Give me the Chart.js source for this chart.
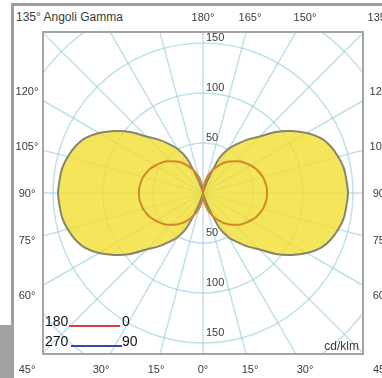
<!DOCTYPE html>
<html>
<head>
<meta charset="utf-8">
<script src="https://cdn.jsdelivr.net/npm/chart.js@4.4.1/dist/chart.umd.min.js"></script>
<style>
  html, body { margin: 0; padding: 0; background: #fff; }
  body { width: 382px; height: 378px; overflow: hidden; position: relative; font-family: "Liberation Sans", Arial, sans-serif; }
  .frame-top { position: absolute; left: 11px; top: 3px; width: 371px; height: 3px; background: #9d9d9d; }
  .frame-left { position: absolute; left: 11px; top: 3px; width: 3px; height: 322px; background: #9d9d9d; }
  .corner-block { position: absolute; left: 0; top: 325px; width: 14px; height: 53px; background: #a2a2a2; }
  #plot { position: absolute; left: 42px; top: 31px; width: 322px; height: 324px; box-sizing: border-box; border: 2px solid #a4a4a4; overflow: hidden; }
  #plot canvas { position: absolute; left: -81px; top: -80px; }
  .lbl { position: absolute; width: 40px; height: 14px; line-height: 14px; text-align: center; font-size: 11px; color: #3a3a3a; white-space: nowrap; opacity: 0.999; will-change: transform; }
  .title { position: absolute; left: 16px; top: 10px; font-size: 12px; color: #3a3a3a; white-space: nowrap; }
  .unit { position: absolute; right: 23px; top: 339px; font-size: 12px; color: #3a3a3a; }
  .leg { position: absolute; font-size: 14px; color: #111; line-height: 14px; }
  .leg-line { position: absolute; height: 2px; }
</style>
</head>
<body>
<div class="frame-top"></div>
<div class="frame-left"></div>
<div class="corner-block"></div>
<div id="plot"><canvas id="polarChart" width="480" height="480"></canvas></div>
<div class="title">135° Angoli Gamma</div>
<div class="unit">cd/klm</div>

<div class="leg" style="left:45px; top:314px;">180</div>
<div class="leg-line" style="left:69px; top:325px; width:51px; background:#e23a3a;"></div>
<div class="leg" style="left:122px; top:314px;">0</div>
<div class="leg" style="left:45px; top:334px;">270</div>
<div class="leg-line" style="left:71px; top:345px; width:51px; background:#3a46a8;"></div>
<div class="leg" style="left:122px; top:334px;">90</div>

<script>
// gamma angles, 5 degree steps
const gammaSteps = [0, 5, 10, 15, 20, 25, 30, 35, 40, 45, 50, 55, 60, 65, 70, 75, 80, 85, 90,
  95, 100, 105, 110, 115, 120, 125, 130, 135, 140, 145, 150, 155, 160, 165, 170, 175, 180];

// cd/klm, red plane C0 (right) / C180 (left)
const c0 = [0, 6, 11, 17, 22, 27, 32, 37, 41, 45, 49, 52, 55, 58, 60, 62, 63, 64, 64,
  64, 63, 62, 60, 58, 55, 52, 49, 45, 41, 37, 32, 27, 22, 17, 11, 6, 0];
const c180 = [0, 6, 11, 17, 22, 27, 32, 37, 41, 45, 49, 52, 55, 58, 60, 62, 63, 64, 64,
  64, 63, 62, 60, 58, 55, 52, 49, 45, 41, 37, 32, 27, 22, 17, 11, 6, 0];

// cd/klm, blue plane C90 (right) / C270 (left)
const c90 = [0, 0, 1, 4, 14, 38, 51, 60, 70, 80, 95, 108, 120, 130, 136, 140, 143, 144, 145,
  144, 143, 140, 136, 130, 120, 108, 95, 80, 70, 60, 51, 38, 14, 4, 1, 0, 0];
const c270 = [0, 0, 1, 4, 14, 38, 51, 60, 70, 80, 95, 108, 120, 130, 136, 140, 143, 144, 145,
  144, 143, 140, 136, 130, 120, 108, 95, 80, 70, 60, 51, 38, 14, 4, 1, 0, 0];

const radialTicks = [50, 100, 150];
const topLabels = ["180°", "165°", "150°", "135°"];
const sideLabels = ["120°", "105°", "90°", "75°", "60°"];
const bottomLabels = ["45°", "30°", "15°", "0°", "15°", "30°", "45"];

// walk clockwise from the top (gamma 180) down the right side, then up the left side
function aroundCircle(right, left) {
  const out = [];
  for (let i = 0; i < 72; i++) {
    out.push(i <= 36 ? right[36 - i] : left[i - 36]);
  }
  return out;
}

const labels = aroundCircle(gammaSteps, gammaSteps).map((g) => g + "°");

// angle labels round the box, where the 15 degree lines would land
function addEdgeLabels() {
  const cx = 203;
  const cy = 193;
  const reach = 176;
  const shift = (deg) => reach * Math.tan((deg * Math.PI) / 180);
  topLabels.forEach((t, i) => addLabel(t, cx + shift(i * 15), cy - reach));
  bottomLabels.forEach((t, i) => addLabel(t, cx + shift(i * 15 - 45), cy + reach));
  sideLabels.forEach((t, i) => {
    addLabel(t, cx - reach, cy + shift(i * 15 - 30));
    addLabel(t, cx + reach + 2, cy + shift(i * 15 - 30));
  });
}

function addLabel(text, x, y) {
  const el = document.createElement("div");
  el.className = "lbl";
  el.textContent = text;
  el.style.left = Math.round(x - 20) + "px";
  el.style.top = Math.round(y - 7) + "px";
  document.body.appendChild(el);
}

// 50/100/150 written above their circles, top and bottom
const tickLabelPlugin = {
  id: "tickLabels",
  afterDatasetsDraw(chart) {
    const scale = chart.scales.r;
    const ctx = chart.ctx;
    ctx.save();
    ctx.font = "11px 'Liberation Sans', Arial, sans-serif";
    ctx.fillStyle = "#3a3a3a";
    ctx.textAlign = "left";
    ctx.textBaseline = "middle";
    radialTicks.forEach((v) => {
      const d = scale.getDistanceFromCenterForValue(v);
      ctx.fillText(String(v), scale.xCenter + 3, scale.yCenter - d - 5);
      ctx.fillText(String(v), scale.xCenter + 3, scale.yCenter + d - 10);
    });
    ctx.restore();
  },
};

const ctx = document.getElementById("polarChart").getContext("2d");
new Chart(ctx, {
  type: "radar",
  data: {
    labels: labels,
    datasets: [
      {
        label: "C0 - C180",
        data: aroundCircle(c0, c180),
        borderColor: "#d4862a",
        borderWidth: 2,
        fill: false,
        pointRadius: 0,
        tension: 0.25,
      },
      {
        label: "C90 - C270",
        data: aroundCircle(c90, c270),
        borderColor: "#86856c",
        backgroundColor: "rgba(242, 222, 50, 0.8)",
        borderWidth: 2,
        fill: true,
        pointRadius: 0,
        tension: 0.25,
      },
    ],
  },
  options: {
    responsive: false,
    animation: false,
    layout: { padding: 0 },
    plugins: {
      legend: { display: false },
      tooltip: { enabled: false },
    },
    scales: {
      r: {
        min: 0,
        max: 240,
        ticks: { stepSize: 50, display: false },
        pointLabels: { display: false },
        grid: { circular: true, color: "rgba(150, 205, 220, 0.6)", lineWidth: 1.5 },
        angleLines: {
          color: "rgba(150, 205, 220, 0.6)",
          lineWidth: (c) => (c.index % 3 === 0 ? 1.5 : 0),
        },
      },
    },
  },
  plugins: [tickLabelPlugin],
});

addEdgeLabels();
</script>
</body>
</html>
